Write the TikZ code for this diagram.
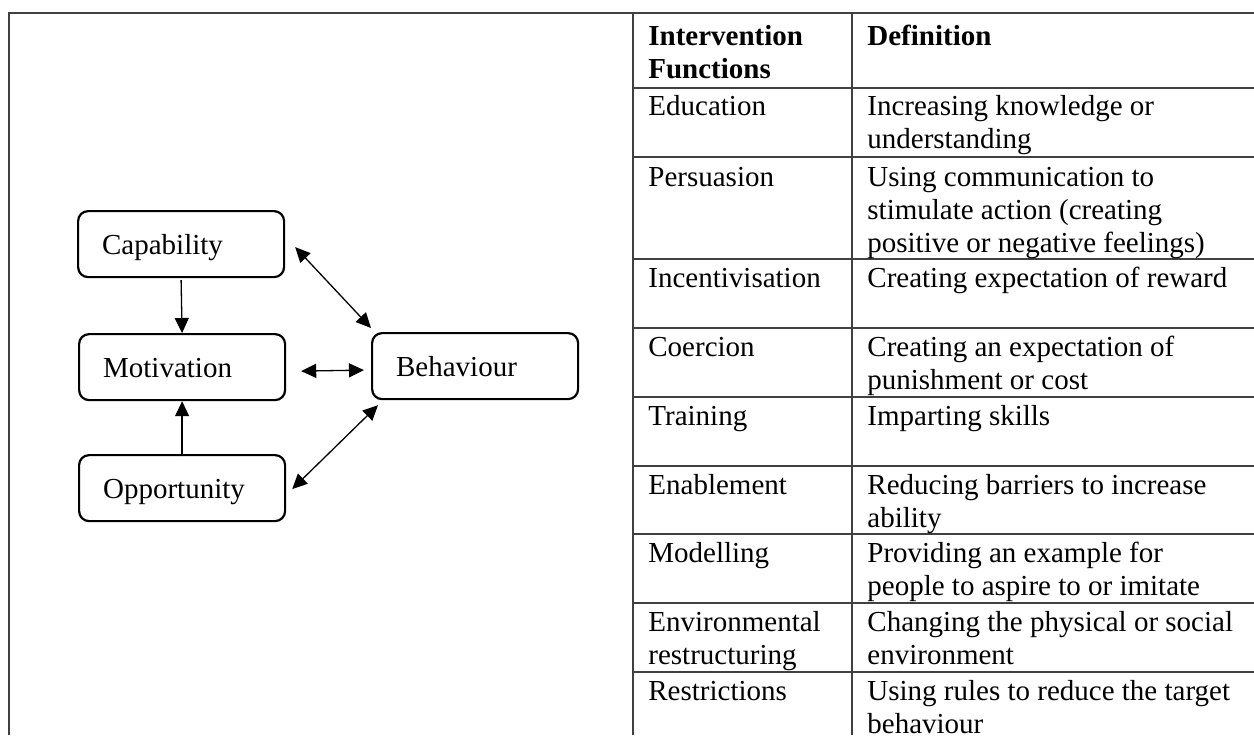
\documentclass[tikz,border=0pt]{standalone}
\usepackage{fontspec}
\setmainfont{Liberation Serif}
\usetikzlibrary{arrows.meta}
\newcommand{\tfont}{\fontsize{14.5}{16.5}\selectfont}
\begin{document}
\begin{tikzpicture}[x=0.5pt,y=-0.5pt,
  box/.style={draw=black, line width=1.1pt, rounded corners=5pt, anchor=north west,
    minimum width=103pt, minimum height=33pt, text width=79pt, inner xsep=12pt, inner ysep=0pt,
    align=left, font=\tfont, text height=10pt, text depth=0pt},
  cell/.style={anchor=base west, inner sep=0pt, align=left, font=\tfont},
  head/.style={cell, font=\tfont\bfseries},
  rule/.style={draw=black!75, line width=1pt},
  arr/.style={draw=black, line width=0.65pt, -{Triangle[length=7.5pt,width=7pt]}},
  biarr/.style={draw=black, line width=0.65pt, {Triangle[length=7.5pt,width=7pt]}-{Triangle[length=7.5pt,width=7pt]}}
]
\useasboundingbox (0,0) rectangle (1254,735);
\fill[white] (0,0) rectangle (1254,735);

% frame and table rules
\draw[rule] (9,735) -- (9,13) -- (1254,13);
\draw[rule] (633,13) -- (633,735);
\draw[rule] (852,13) -- (852,735);
\foreach \yy in {88,157,259,328,397,466,534,603,672}
  \draw[rule] (633,\yy) -- (1254,\yy);

% diagram
\node[box] (cap) at (77,210) {Capability};
\node[box] (mot) at (78,333) {Motivation};
\node[box] (opp) at (78,454) {Opportunity};
\node[box] (beh) at (371,332) {Behaviour};

\draw[arr] ([yshift=-1pt]cap.south) -- (mot.north);
\draw[arr] ([yshift=-1pt]opp.north) -- (mot.south);
\draw[biarr] ([xshift=7.5pt,yshift=-2pt]mot.east) -- ([xshift=-3.5pt,yshift=-2pt]beh.west);
\draw[biarr] ([xshift=5pt,yshift=-1.5pt]cap.east) -- ([yshift=2pt]beh.north west);
\draw[biarr] ([xshift=3pt,yshift=-0.5pt]opp.east) -- ([xshift=3.5pt,yshift=-2.5pt]beh.south west);

% table header (base anchor = last line's baseline)
\node[head] (h1) at (648,78) {Intervention\\Functions};
\node[head] (h2) at (867,45) {Definition};

% table rows
\node[cell] (a1) at (648,115) {Education};
\node[cell] (b1) at (867,148) {Increasing knowledge or\\understanding};
\node[cell] (a2) at (648,186) {Persuasion};
\node[cell] (b2) at (867,252) {Using communication to\\stimulate action (creating\\positive or negative feelings)};
\node[cell] (a3) at (648,287) {Incentivisation};
\node[cell] (b3) at (867,287) {Creating expectation of reward};
\node[cell] (a4) at (648,356) {Coercion};
\node[cell] (b4) at (867,389) {Creating an expectation of\\punishment or cost};
\node[cell] (a5) at (648,425) {Training};
\node[cell] (b5) at (867,425) {Imparting skills};
\node[cell] (a6) at (648,494) {Enablement};
\node[cell] (b6) at (867,527) {Reducing barriers to increase\\ability};
\node[cell] (a7) at (648,562) {Modelling};
\node[cell] (b7) at (867,595) {Providing an example for\\people to aspire to or imitate};
\node[cell] (a8) at (648,664) {Environmental\\restructuring};
\node[cell] (b8) at (867,664) {Changing the physical or social\\environment};
\node[cell] (a9) at (648,700) {Restrictions};
\node[cell] (b9) at (867,733) {Using rules to reduce the target\\behaviour};
\end{tikzpicture}
\end{document}
